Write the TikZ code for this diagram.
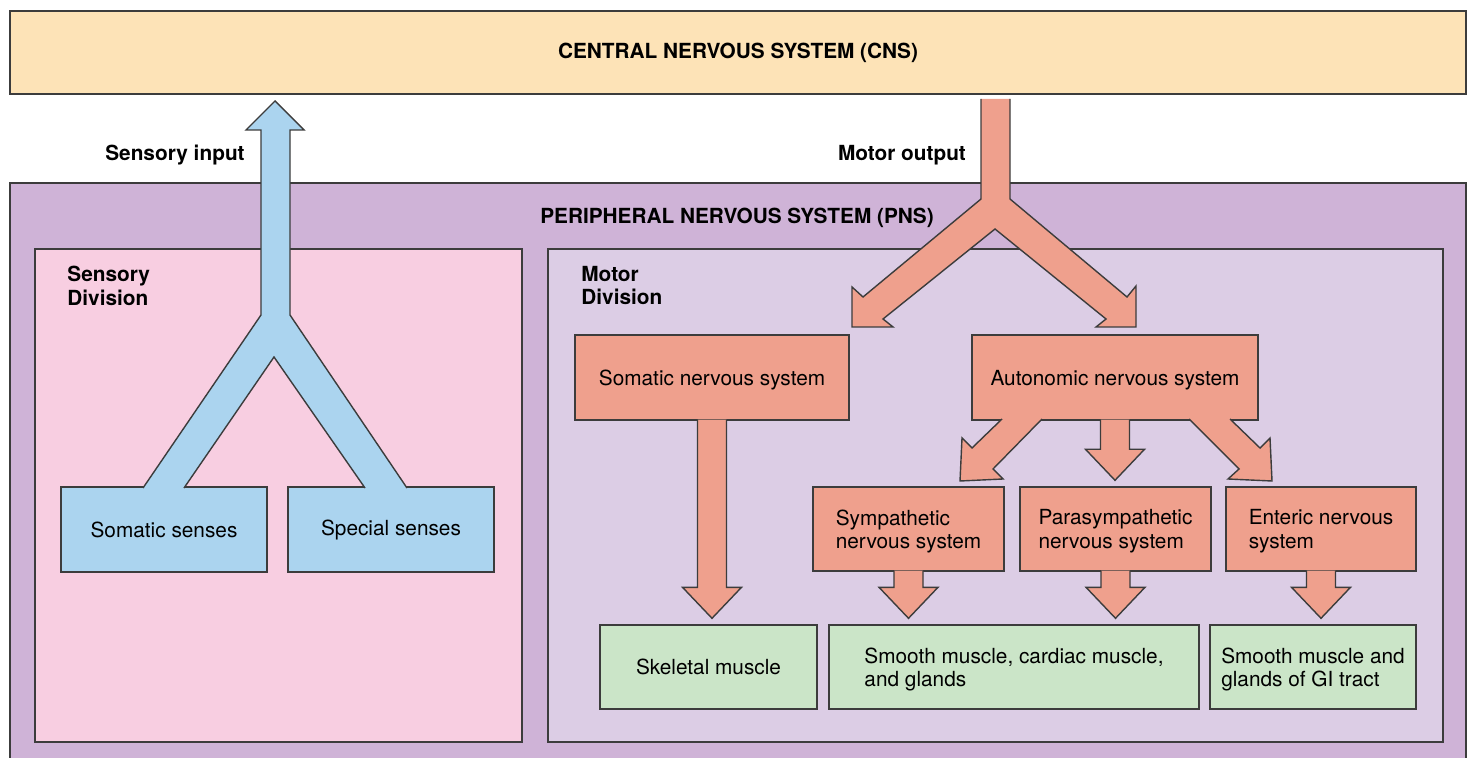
\documentclass[tikz,border=0pt]{standalone}
\usepackage{fontspec}
\setmainfont{TeX Gyre Heros}
\usepackage{xcolor}
\usepackage{tikz}
\usetikzlibrary{calc}
\definecolor{cnsFill}{HTML}{FDE3B7}
\definecolor{pnsFill}{HTML}{CFB3D7}
\definecolor{sensoryFill}{HTML}{F8CEE1}
\definecolor{motorFill}{HTML}{DCCDE5}
\definecolor{senseBlue}{HTML}{ABD4EF}
\definecolor{nerveRed}{HTML}{EFA08D}
\definecolor{effectorGreen}{HTML}{CBE5C8}
\definecolor{edgeGray}{HTML}{3C3C3C}

% straight block arrow from the bottom of one box to the top of the next
\newcommand{\fatdown}[2]{%
  \filldraw[fat arrow, fill=nerveRed]
    let \p1=(#1.south), \p2=(#2.north) in
    (\x1-7.25pt,\y1+0.5pt) -- (\x1-7.25pt,\y2+18.5pt) -- (\x1-14.75pt,\y2+18.5pt)
    -- (\x1,\y2+3pt) -- (\x1+14.75pt,\y2+18.5pt) -- (\x1+7.25pt,\y2+18.5pt)
    -- (\x1+7.25pt,\y1+0.5pt);}

\begin{document}
\begin{tikzpicture}[
  x=0.5pt, y=-0.5pt,
  font=\fontsize{10.4}{11.7}\selectfont,
  panel/.style={
    draw=edgeGray,
    line width=0.7pt,
    inner sep=0pt
  },
  heading/.style={
    font=\fontsize{10.4}{11.7}\selectfont\bfseries
  },
  sensebox/.style={
    panel,
    fill=senseBlue,
    minimum width=103pt,
    minimum height=42.5pt
  },
  nervebox/.style={
    panel,
    fill=nerveRed,
    align=left,
    text depth=0pt,
    minimum height=42.5pt
  },
  targetbox/.style={
    panel,
    fill=effectorGreen,
    align=left,
    text depth=0pt,
    minimum height=42pt
  },
  fat arrow/.style={
    draw=edgeGray,
    line width=0.7pt,
    line join=miter
  }
]
\useasboundingbox (0,0) rectangle (1471,758);
\clip (0,0) rectangle (1471,758);

% Outer systems
\node[panel, fill=pnsFill, minimum width=728pt, minimum height=296pt] (pns) at (738,479) {};
\node[panel, fill=cnsFill, minimum width=728pt, minimum height=41.5pt, heading] (cns) at (738,52.5)
  {CENTRAL NERVOUS SYSTEM (CNS)};
\node[heading, anchor=base] (pnsTitle) at (737,223.5) {PERIPHERAL NERVOUS SYSTEM (PNS)};
\node[heading, anchor=base] (sensoryInput) at (175,161) {Sensory input};
\node[heading, anchor=base] (motorOutput) at (902,161) {Motor output};

% Divisions
\node[panel, fill=sensoryFill, minimum width=243.5pt, minimum height=246.5pt] (sensoryDiv) at (278.5,495.5) {};
\node[panel, fill=motorFill, minimum width=447.5pt, minimum height=246.5pt] (motorDiv) at (995.5,495.5) {};
\node[heading, align=left, anchor=north west, inner sep=0pt] (sensoryTitle) at (67,266) {Sensory\\Division};
\node[heading, align=left, anchor=north west, inner sep=0pt] (motorTitle) at (581,266) {Motor\\Division};

% Sensory side
\node[sensebox] (somSenses) at (164,529.5) {Somatic senses};
\node[sensebox] (specSenses) at (391,529.5) {Special senses};

% Motor side
\node[nervebox, minimum width=137pt] (somaticNS) at (712,377.5) {Somatic nervous system};
\node[nervebox, minimum width=143pt] (autonomicNS) at (1115,377.5) {Autonomic nervous system};
\node[nervebox, minimum width=95.5pt, minimum height=42pt] (sympNS) at (908.5,529)
  {Sympathetic\\nervous system};
\node[nervebox, minimum width=95.5pt, minimum height=42pt] (paraNS) at (1115.5,529)
  {Parasympathetic\\nervous system};
\node[nervebox, minimum width=95pt, minimum height=42pt] (entericNS) at (1321,529)
  {Enteric nervous\\system};

\node[targetbox, minimum width=108.5pt] (skeletal) at (708.5,667) {Skeletal muscle};
\node[targetbox, minimum width=185pt] (smoothCardiac) at (1014,667)
  {Smooth muscle, cardiac muscle,\\and glands};
\node[targetbox, minimum width=103pt] (smoothGI) at (1313,667)
  {Smooth muscle and\\glands of GI tract};

% Sensory input: two legs joining into one shaft up to the CNS
\fill[senseBlue] (143,488) -- (261,315) -- (261,130) -- (246,130) -- (275,101) -- (304,130)
  -- (290,130) -- (290,315) -- (407,488) -- (365,488) -- (274,357) -- (184,488) -- cycle;
\draw[fat arrow] (143,488) -- (261,315) -- (261,130) -- (246,130) -- (275,101) -- (304,130)
  -- (290,130) -- (290,315) -- (407,488);
\draw[fat arrow] (365,488) -- (274,357) -- (184,488);

% Motor output: one shaft splitting towards somatic and autonomic
\filldraw[fat arrow, fill=nerveRed] (981,99) -- (981,199) -- (863,297) -- (852,287) -- (852,327)
  -- (893,327) -- (883,319) -- (995,229) -- (1106,319) -- (1096,327) -- (1136,327)
  -- (1136,286) -- (1127,297) -- (1010,199) -- (1010,99);

% Autonomic branches
\filldraw[fat arrow, fill=nerveRed] (1002,419) -- (972,448) -- (962,438) -- (960,481)
  -- (1003,479) -- (993,469) -- (1042,419);
\fatdown{autonomicNS}{paraNS}
\filldraw[fat arrow, fill=nerveRed] (1189,419) -- (1239,469) -- (1228,479) -- (1272,481)
  -- (1270,438) -- (1260,448) -- (1230,419);

% To the effectors
\fatdown{somaticNS}{skeletal}
\fatdown{sympNS}{smoothCardiac}
\fatdown{paraNS}{smoothCardiac}
\fatdown{entericNS}{smoothGI}

\end{tikzpicture}
\end{document}
